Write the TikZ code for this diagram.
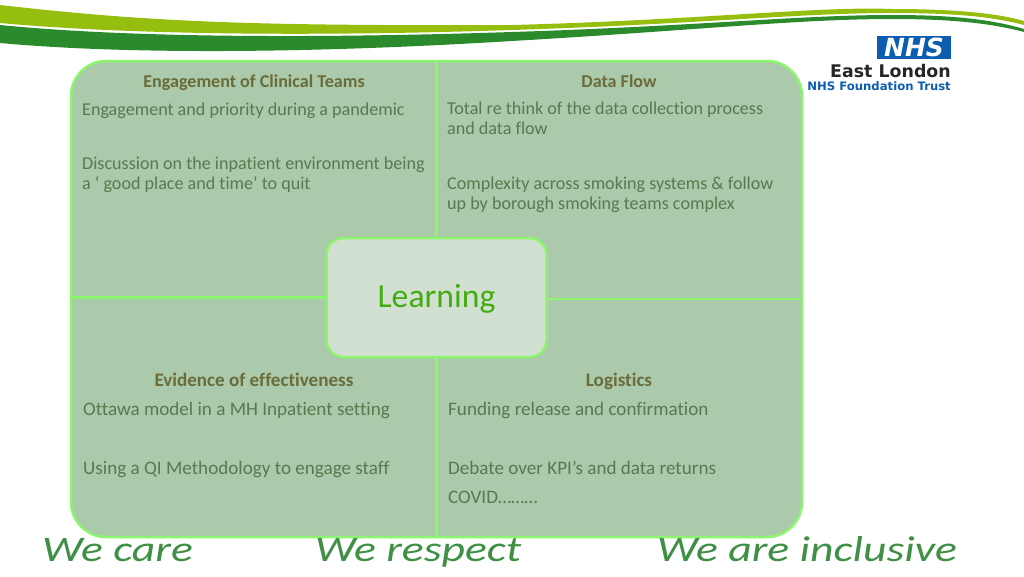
\documentclass[tikz,border=0pt]{standalone}
\usepackage{fontspec}
\setmainfont[Ligatures=NoCommon]{Carlito}
\newfontfamily\logofont{DejaVu Sans}
\newfontfamily\mottofont[FakeStretch=1.27,Ligatures=NoCommon]{Carlito}
\definecolor{panelfill}{HTML}{ABC9AB}
\definecolor{panelline}{HTML}{8CF56E}
\definecolor{hubfill}{HTML}{D2E0D2}
\definecolor{hubtext}{HTML}{42AC12}
\definecolor{headtext}{HTML}{6A6C3A}
\definecolor{bodytext}{HTML}{587A4E}
\definecolor{swooshlight}{HTML}{96BE0E}
\definecolor{swooshdark}{HTML}{2B8A2B}
\definecolor{mottotext}{HTML}{3F8F45}
\definecolor{nhsblue}{HTML}{0B5DB0}
\tikzstyle{panel}=[draw=panelline,line width=2.5pt,fill=panelfill,rounded corners=35pt,minimum width=731pt,minimum height=476pt,inner sep=0pt]
\tikzstyle{hub}=[draw=panelline,line width=2.5pt,fill=hubfill,text=hubtext,rounded corners=17pt,minimum width=220pt,minimum height=119pt,inner sep=0pt,font=\fontsize{33.7}{36}\selectfont,execute at begin node=\strut]
\tikzstyle{spoke}=[draw=panelline,line width=2.5pt]
\tikzstyle{heading}=[text=headtext,inner sep=0pt,font=\fontsize{18.1}{20}\selectfont\bfseries,execute at begin node=\strut]
\tikzstyle{lowheading}=[heading,font=\fontsize{19.1}{20}\selectfont\bfseries]
\tikzstyle{body}=[text=bodytext,inner sep=0pt,anchor=west,align=left,font=\fontsize{18.1}{20}\selectfont,execute at begin node=\strut,execute at end node=\strut]
\tikzstyle{lowbody}=[body,font=\fontsize{19.1}{20}\selectfont]
\tikzstyle{motto}=[text=mottotext,inner sep=0pt,anchor=west,font=\mottofont\fontsize{36}{38}\selectfont\itshape,execute at begin node=\strut]
\begin{document}
\begin{tikzpicture}[x=1pt,y=-1pt]
	\useasboundingbox (0,0) rectangle (1024,576);
	% Swooshes along the top
	\fill[swooshlight] (0,5) .. controls (150,22) and (250,26) .. (512,25) .. controls (700,20) and (820,6) .. (892,9) .. controls (960,9) and (1000,14) .. (1024,21) -- (1024,25) .. controls (990,16) and (950,13) .. (892,13) .. controls (800,13) and (700,24) .. (512,30) .. controls (300,37) and (120,34) .. (0,23) -- cycle;
	\fill[swooshdark] (0,25) .. controls (120,37) and (300,39) .. (512,32) .. controls (700,26) and (800,15) .. (892,15) .. controls (950,15) and (990,19) .. (1024,29) -- (1024,32) .. controls (990,23) and (950,19) .. (892,19) .. controls (800,19) and (700,30) .. (512,41) .. controls (300,54) and (120,54) .. (0,43) -- cycle;
	% Panel and centre box
	\node[panel] (board) at (436.5,299) {};
	\node[hub] (learning) at (436.5,297.5) {\raisebox{-3pt}{Learning}};
	% Connect centre box with panel edges
	\foreach \source/ \dest in {learning.north/board.north, learning.south/board.south}
		\path[spoke] (\source) to (\dest);
	\path[spoke,line width=2pt] (learning.east |- board.east) to (board.east);
	\path[spoke,line width=3.5pt] (learning.west) to (board.west |- learning.west);
	% Top left
	\node[heading] (cliniclabel) at (254,83) {Engagement of Clinical Teams};
	\node[body] (clinicone) at (82,111) {Engagement and priority during a pandemic};
	\node[body] (clinictwo) at (82,176.5) {Discussion on the inpatient environment being\\a ‘ good place and time’ to quit};
	% Top right
	\node[heading] (flowlabel) at (619,83) {Data Flow};
	\node[body] (flowone) at (447,121.5) {Total re think of the data collection process\\and data flow};
	\node[body] (flowtwo) at (447,196.5) {Complexity across smoking systems \& follow\\up by borough smoking teams complex};
	% Bottom left
	\node[lowheading] (evidencelabel) at (254,382.5) {Evidence of effectiveness};
	\node[lowbody] (evidenceone) at (83,411.5) {Ottawa model in a MH Inpatient setting};
	\node[lowbody] (evidencetwo) at (83,470.5) {Using a QI Methodology to engage staff};
	% Bottom right
	\node[lowheading] (logisticslabel) at (619,382.5) {Logistics};
	\node[lowbody] (logisticsone) at (448,411.5) {Funding release and confirmation};
	\node[lowbody] (logisticstwo) at (448,470.5) {Debate over KPI’s and data returns};
	\node[lowbody] (logisticsthree) at (448,499.5) {COVID………};
	% Mottos
	\node[motto] (care) at (42,554) {We care};
	\node[motto] (respect) at (315,554) {We respect};
	\node[motto] (inclusive) at (657,554) {We are inclusive};
	% Logo
	\node[fill=nhsblue,text=white,minimum width=74pt,minimum height=23pt,inner sep=0pt,font=\logofont\fontsize{25}{25}\selectfont\bfseries\itshape] (nhsbox) at (914,47.5) {NHS};
	\node[anchor=east,inner sep=0pt,text=black!85,font=\logofont\fontsize{17.4}{18}\selectfont\bfseries] (eastlondon) at (951,71) {East London};
	\node[anchor=east,inner sep=0pt,text=nhsblue,font=\logofont\fontsize{11.65}{12}\selectfont\bfseries] (trust) at (951,86) {NHS Foundation Trust};
\end{tikzpicture}
\end{document}
